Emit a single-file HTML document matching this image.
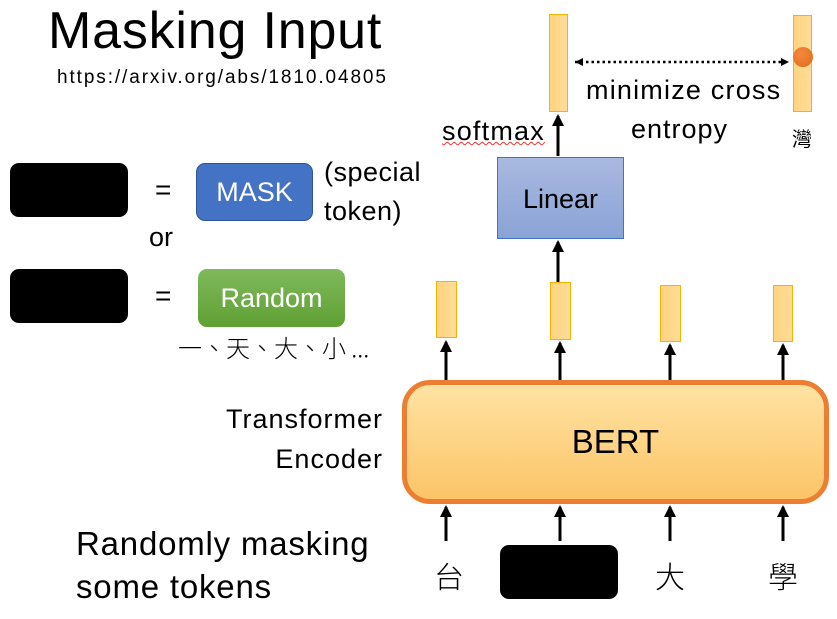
<!DOCTYPE html><html><head><meta charset="utf-8"><style>
body{margin:0;width:837px;height:619px;background:#fff;position:relative;overflow:hidden;font-family:"Liberation Sans","Noto Sans CJK TC",sans-serif;color:#000}
.t{position:absolute;white-space:nowrap;line-height:1}
.b{position:absolute;box-sizing:border-box}
.v{position:absolute;box-sizing:border-box;border:1.5px solid #f4b400;background:linear-gradient(90deg,#ffd480,#ffdc99)}
</style></head><body>
<div class="t" style="left:48px;top:5px;font-size:52px;letter-spacing:0.8px">Masking Input</div>
<div class="t" style="left:57px;top:68px;font-size:19px;letter-spacing:1.9px">https://arxiv.org/abs/1810.04805</div>
<div class="b" style="left:10px;top:163px;width:118px;height:54px;background:#000;border-radius:9px"></div>
<div class="t" style="left:155px;top:176px;font-size:28px">=</div>
<div class="b" style="left:196px;top:163px;width:117px;height:58px;background:#4472c4;border:1px solid #2f5597;border-radius:9px;color:#fff;font-size:27px;text-align:center;line-height:56px">MASK</div>
<div class="t" style="left:324px;top:159px;font-size:27px;letter-spacing:0.5px">(special</div>
<div class="t" style="left:324px;top:198px;font-size:27px;letter-spacing:0.5px">token)</div>
<div class="t" style="left:149px;top:224px;font-size:27px">or</div>
<div class="b" style="left:10px;top:269px;width:118px;height:54px;background:#000;border-radius:9px"></div>
<div class="t" style="left:155px;top:282px;font-size:28px">=</div>
<div class="b" style="left:198px;top:269px;width:147px;height:58px;background:linear-gradient(#80b95c,#5fa033);border-radius:9px;color:#fff;font-size:27px;text-align:center;line-height:58px">Random</div>
<div class="t" style="left:178px;top:335px;font-size:24px;font-family:'Noto Sans CJK TC',sans-serif;font-weight:300">一、天、大、小 ...</div>

<div class="v" style="left:549px;top:14px;width:19px;height:98px"></div>
<div class="v" style="left:793px;top:15px;width:19px;height:97px"></div>
<div class="b" style="left:793px;top:47px;width:20px;height:20px;border-radius:50%;background:radial-gradient(circle at 40% 35%,#f5883c,#e06a1a)"></div>
<div class="t" style="left:586px;top:77px;font-size:27px;letter-spacing:1.2px">minimize cross</div>
<div class="t" style="left:631px;top:116px;font-size:27px;letter-spacing:1px">entropy</div>
<div class="t" style="left:792px;top:128px;font-size:20px;font-family:'Noto Sans CJK TC',sans-serif">灣</div>
<div class="t" style="left:442px;top:118px;font-size:27px;letter-spacing:1.2px;text-decoration:underline wavy #e33;text-decoration-thickness:1px">softmax</div>
<div class="b" style="left:497px;top:157px;width:127px;height:82px;background:linear-gradient(#a9b9e0,#8aa3d6);border:1px solid #4472c4;font-size:27px;text-align:center;line-height:82px">Linear</div>

<div class="v" style="left:436px;top:281px;width:21px;height:57px"></div>
<div class="v" style="left:550px;top:282px;width:21px;height:58px"></div>
<div class="v" style="left:660px;top:285px;width:21px;height:57px"></div>
<div class="v" style="left:773px;top:285px;width:20px;height:57px"></div>

<div class="b" style="left:402px;top:380px;width:427px;height:124px;border:5px solid #ed7d31;border-radius:28px;background:linear-gradient(#ffe3a3,#fcc467);font-size:33px;text-align:center;line-height:114px">BERT</div>
<div class="t" style="left:200px;top:406px;font-size:27px;width:183px;text-align:right;letter-spacing:1px">Transformer</div>
<div class="t" style="left:200px;top:446px;font-size:27px;width:183px;text-align:right;letter-spacing:1px">Encoder</div>

<div class="t" style="left:434px;top:560px;font-size:30px;font-family:'Noto Sans CJK TC',sans-serif;font-weight:300">台</div>
<div class="b" style="left:500px;top:545px;width:118px;height:54px;background:#000;border-radius:9px"></div>
<div class="t" style="left:655px;top:560px;font-size:30px;font-family:'Noto Sans CJK TC',sans-serif;font-weight:300">大</div>
<div class="t" style="left:768px;top:560px;font-size:30px;font-family:'Noto Sans CJK TC',sans-serif;font-weight:300">學</div>
<div class="t" style="left:76px;top:527px;font-size:33px;letter-spacing:0.8px">Randomly masking</div>
<div class="t" style="left:76px;top:570px;font-size:33px;letter-spacing:0.8px">some tokens</div>

<svg width="837" height="619" style="position:absolute;left:0;top:0">
<defs><marker id="a" markerWidth="8" markerHeight="8" refX="6" refY="4" orient="auto" markerUnits="userSpaceOnUse"><path d="M0,0L8,4L0,8z"/></marker>
<marker id="h" markerWidth="12" markerHeight="12" refX="10" refY="6" orient="auto" markerUnits="userSpaceOnUse"><path d="M0,0L12,6L0,12z"/></marker></defs>
<line x1="575" y1="62" x2="787" y2="62" stroke="#000" stroke-width="2.5" stroke-dasharray="2.5,3" marker-end="url(#a)"/>
<line x1="787" y1="62" x2="577" y2="62" stroke="none" marker-end="url(#a)"/>
<g stroke="#000" stroke-width="3" marker-end="url(#h)">
<line x1="558" y1="156" x2="558" y2="116"/>
<line x1="558" y1="282" x2="558" y2="242"/>
<line x1="446" y1="380" x2="446" y2="342"/>
<line x1="560" y1="380" x2="560" y2="343"/>
<line x1="670" y1="380" x2="670" y2="345"/>
<line x1="783" y1="380" x2="783" y2="345"/>
<line x1="446" y1="541" x2="446" y2="507"/>
<line x1="560" y1="541" x2="560" y2="507"/>
<line x1="670" y1="541" x2="670" y2="507"/>
<line x1="783" y1="541" x2="783" y2="507"/>
</g></svg>
</body></html>
